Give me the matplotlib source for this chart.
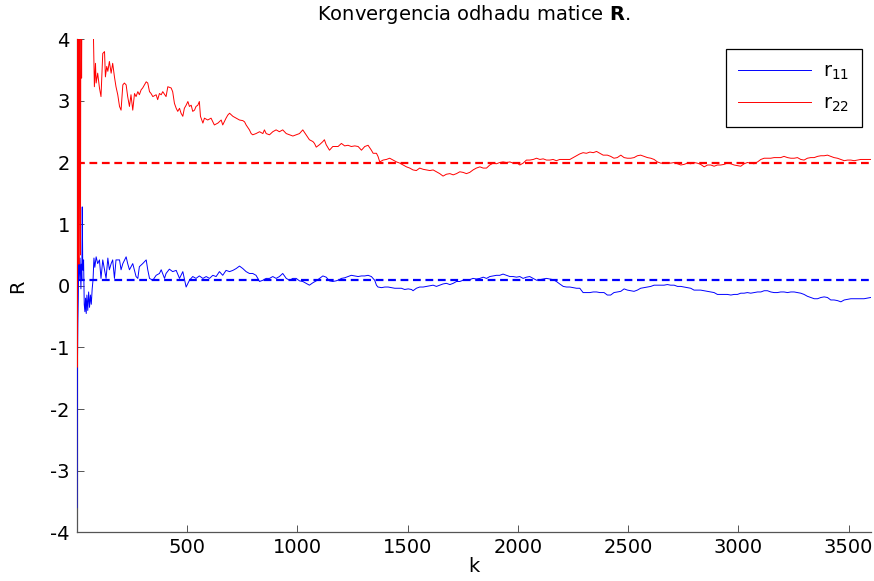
import numpy as np
import matplotlib
matplotlib.use("Agg")
import matplotlib.pyplot as plt

plt.rcParams["font.family"] = ["DejaVu Sans"]
plt.rcParams["mathtext.fontset"] = "dejavusans"
plt.rcParams["axes.unicode_minus"] = False

# true values (dashed reference lines)
r11_true = 0.1
r22_true = 2.0

# shared sample positions for the tail part of both estimates
k_tail = [2391, 2406, 2421, 2436, 2451, 2467, 2482, 2497, 2512, 2527,
          2542, 2557, 2572, 2588, 2603, 2618, 2633, 2648, 2663, 2678,
          2693, 2709, 2724, 2739, 2754, 2769, 2784, 2799, 2814, 2829,
          2845, 2860, 2875, 2890, 2905, 2920, 2935, 2950, 2966, 2981,
          2996, 3011, 3026, 3041, 3056, 3071, 3087, 3102, 3117, 3132,
          3147, 3162, 3177, 3192, 3207, 3223, 3238, 3253, 3268, 3283,
          3298, 3313, 3328, 3344, 3359, 3374, 3389, 3404, 3419, 3434,
          3449, 3465, 3480, 3495, 3510, 3525, 3540, 3555, 3570, 3585,
          3600]

# r11 estimate
k_r11 = [1, 2, 3, 4, 5, 7, 9, 11, 13, 15, 17, 19, 21, 23, 25, 27, 29, 31, 34, 37,
         40, 43, 46, 50, 54, 58, 62, 66, 70, 74, 78, 82,
         88, 95, 103, 110, 118, 133, 141, 148, 156, 163, 171, 178, 194, 201, 209, 224,
         231, 239, 254, 269, 277, 284, 299, 315, 322, 330, 345, 360, 375, 383, 398, 405,
         420, 435, 451, 466, 481, 496, 511, 526, 541, 556, 572, 587, 602, 617, 632, 647,
         662, 677, 693, 708, 723, 738, 753, 768, 783, 798, 813, 821, 829, 844, 859, 874,
         889, 904, 919, 934, 950, 965, 980, 995, 1010, 1025, 1040, 1055, 1071, 1086, 1101, 1116,
         1131, 1146, 1161, 1176, 1191,
         1200, 1215, 1230, 1245, 1261, 1276, 1291, 1306, 1321, 1336, 1351, 1359, 1366, 1382,
         1397, 1412, 1427, 1442, 1457, 1472, 1487, 1503, 1518, 1525, 1540, 1555, 1571, 1586,
         1601, 1616, 1631, 1646, 1661, 1676, 1692, 1707, 1722, 1737, 1752, 1767, 1782, 1797,
         1812, 1828, 1843, 1858, 1873, 1888, 1903, 1918, 1933, 1949, 1964, 1979, 1994, 2009,
         2024, 2039, 2054, 2070, 2085, 2100, 2115, 2130, 2145, 2160, 2175, 2190, 2206, 2221,
         2236, 2251, 2266, 2281, 2296, 2311, 2327, 2342, 2357, 2372, 2387] + k_tail
r11 = [-3.6, -2.45, -1.35, -0.95, -0.6, -0.2, 0.35, 0.1, 0.3, 0.45, 0.2, -0.05, 0.35, 0.1, 1.28, 0.4, 0.25, 0.42, -0.3, -0.42,
       -0.2, -0.45, -0.15, -0.4, -0.1, -0.35, -0.15, -0.3, -0.05, 0.1, 0.45, 0.3,
       0.47, 0.36, 0.42, 0.12, 0.42, 0.12, 0.45, 0.26, 0.36, 0.42, 0.12, 0.42, 0.42, 0.26, 0.36, 0.47,
       0.36, 0.26, 0.36, 0.15, 0.12, 0.31, 0.36, 0.42, 0.26, 0.12, 0.09, 0.17, 0.20, 0.26, 0.12, 0.20,
       0.27, 0.23, 0.25, 0.12, 0.23, -0.02, 0.09, 0.15, 0.12, 0.16, 0.12, 0.15, 0.12, 0.17, 0.15, 0.23,
       0.17, 0.25, 0.23, 0.25, 0.28, 0.32, 0.28, 0.23, 0.20, 0.20, 0.17, 0.12, 0.07, 0.09, 0.12, 0.12,
       0.15, 0.12, 0.15, 0.20, 0.12, 0.09, 0.12, 0.12, 0.08, 0.07, 0.04, 0.01, 0.05, 0.08, 0.12, 0.16,
       0.14, 0.08, 0.07, 0.08, 0.10,
       0.12, 0.13, 0.15, 0.17, 0.16, 0.15, 0.16, 0.16, 0.17, 0.15, 0.09, 0.01, -0.02, -0.03,
       -0.02, -0.02, -0.03, -0.04, -0.04, -0.04, -0.06, -0.05, -0.06, -0.08, -0.04, -0.02, -0.02, -0.01,
       0.0, 0.01, -0.01, 0.01, 0.03, 0.04, 0.02, 0.04, 0.07, 0.07, 0.09, 0.09, 0.10, 0.12,
       0.11, 0.12, 0.14, 0.12, 0.15, 0.16, 0.17, 0.17, 0.19, 0.17, 0.15, 0.15, 0.14, 0.15,
       0.12, 0.14, 0.15, 0.12, 0.09, 0.10, 0.11, 0.12, 0.11, 0.10, 0.07, 0.03, -0.01, -0.02,
       -0.02, -0.03, -0.04, -0.04, -0.11, -0.11, -0.11, -0.10, -0.10, -0.11, -0.11,
       -0.11, -0.15, -0.15, -0.11, -0.10, -0.09, -0.05, -0.07, -0.08, -0.09,
       -0.07, -0.04, -0.03, -0.02, -0.01, 0.01, 0.01, 0.01, 0.01, 0.02,
       0.01, 0.01, -0.01, -0.01, -0.02, -0.03, -0.04, -0.07, -0.07, -0.07,
       -0.08, -0.09, -0.10, -0.11, -0.14, -0.14, -0.14, -0.14, -0.15, -0.14,
       -0.14, -0.12, -0.12, -0.11, -0.12, -0.11, -0.10, -0.10, -0.08, -0.08,
       -0.10, -0.11, -0.11, -0.10, -0.10, -0.11, -0.10, -0.10, -0.11, -0.12,
       -0.14, -0.17, -0.19, -0.21, -0.21, -0.19, -0.18, -0.19, -0.23, -0.23,
       -0.24, -0.26, -0.23, -0.22, -0.21, -0.21, -0.21, -0.21, -0.21, -0.20,
       -0.19]

# r22 estimate
k_r22 = [1, 3, 5, 8, 10, 12, 15, 17, 19, 22, 25, 35, 45, 55, 65, 72,
         76, 80, 85, 88, 95, 103, 110, 118, 126, 130, 136, 141, 148, 156, 163, 171,
         178, 186, 194, 201, 209, 216, 224, 231, 239, 246, 254, 262, 269, 277, 284, 292,
         299, 307, 315, 322, 330, 337, 345, 360, 367, 375, 383, 390, 405, 413, 428, 435,
         443, 451, 458, 466, 473, 481, 488, 496, 504, 511, 519, 526, 534, 541, 549, 556,
         561, 572, 579, 594, 609, 617, 624, 640, 655, 662, 677, 685, 693, 708, 723, 738,
         753, 761, 768, 783, 791, 798, 813, 829, 844, 851, 859, 874, 889, 904, 919, 934,
         950, 965, 980, 995, 1010, 1025, 1040, 1055, 1071, 1078, 1086, 1101, 1116, 1123, 1131, 1146,
         1161, 1176,
         1185, 1200, 1215, 1230, 1245, 1261, 1276, 1291, 1306, 1321, 1336, 1344, 1359, 1366,
         1374, 1389, 1404, 1419, 1434, 1450, 1465, 1480, 1495, 1510, 1525, 1540, 1555, 1571,
         1586, 1601, 1616, 1631, 1646, 1661, 1676, 1692, 1707, 1722, 1737, 1752, 1767, 1782,
         1797, 1812, 1828, 1843, 1858, 1873, 1888, 1903, 1918, 1933, 1949, 1964, 1979, 1994,
         2009, 2024, 2039, 2054, 2070, 2085, 2100, 2115, 2130, 2145, 2160, 2175, 2190, 2206,
         2221, 2236, 2251, 2266, 2281, 2296, 2311, 2327, 2342, 2357, 2372, 2387] + k_tail
r22 = [4.8, -1.32, 6.0, 1.2, 0.35, 6.0, 1.15, 0.5, 6.0, 3.37, 6.0, 4.6, 4.9, 4.4, 4.7, 4.3,
       4.0, 3.23, 3.61, 3.29, 3.45, 3.21, 3.07, 3.77, 3.80, 3.39, 3.56, 3.48, 3.64, 3.45, 3.61, 3.39,
       3.23, 3.10, 2.91, 2.85, 3.26, 3.29, 3.26, 3.07, 2.91, 3.10, 2.85, 3.12, 3.07, 3.15, 3.10, 3.18,
       3.21, 3.26, 3.31, 3.29, 3.15, 3.12, 3.07, 3.10, 3.02, 3.12, 3.10, 3.15, 3.07, 3.23, 3.21, 3.15,
       2.96, 2.88, 2.83, 2.88, 2.80, 2.75, 2.88, 2.93, 2.99, 2.91, 2.93, 2.83, 2.85, 2.91, 2.93, 2.99,
       2.75, 2.64, 2.72, 2.69, 2.72, 2.66, 2.61, 2.64, 2.69, 2.61, 2.72, 2.77, 2.80, 2.75, 2.72, 2.69,
       2.68, 2.66, 2.61, 2.53, 2.47, 2.45, 2.47, 2.50, 2.47, 2.53, 2.47, 2.45, 2.50, 2.53, 2.50, 2.53,
       2.47, 2.45, 2.43, 2.45, 2.47, 2.53, 2.45, 2.37, 2.34, 2.31, 2.25, 2.29, 2.34, 2.37, 2.29, 2.20,
       2.26, 2.26,
       2.26, 2.31, 2.27, 2.28, 2.26, 2.27, 2.26, 2.20, 2.26, 2.28, 2.20, 2.15, 2.15, 2.10,
       2.01, 2.04, 2.05, 2.07, 2.04, 2.01, 1.99, 1.96, 1.93, 1.91, 1.88, 1.87, 1.91, 1.89,
       1.88, 1.87, 1.88, 1.85, 1.82, 1.78, 1.81, 1.82, 1.80, 1.82, 1.85, 1.84, 1.82, 1.84,
       1.88, 1.91, 1.93, 1.91, 1.91, 1.96, 1.99, 1.98, 2.00, 2.01, 2.00, 2.01, 1.99, 2.00,
       1.96, 1.99, 2.04, 2.04, 2.05, 2.07, 2.05, 2.06, 2.04, 2.04, 2.05, 2.03, 2.05, 2.05,
       2.05, 2.05, 2.08, 2.11, 2.14, 2.16, 2.15, 2.17, 2.16, 2.18, 2.15, 2.12,
       2.12, 2.12, 2.10, 2.07, 2.08, 2.12, 2.08, 2.07, 2.07, 2.08,
       2.11, 2.12, 2.10, 2.08, 2.07, 2.05, 2.01, 1.99, 1.99, 2.00,
       1.99, 2.00, 1.98, 1.96, 1.97, 1.99, 1.98, 2.00, 1.99, 1.97,
       1.93, 1.96, 1.96, 1.94, 1.96, 1.96, 1.97, 1.99, 1.98, 1.96,
       1.95, 1.94, 1.98, 2.00, 1.99, 1.98, 2.01, 2.05, 2.07, 2.07,
       2.07, 2.08, 2.08, 2.08, 2.10, 2.08, 2.07, 2.07, 2.08, 2.05,
       2.04, 2.07, 2.08, 2.08, 2.10, 2.11, 2.11, 2.12, 2.10, 2.08,
       2.07, 2.05, 2.03, 2.04, 2.04, 2.03, 2.04, 2.05, 2.05, 2.05,
       2.05]

k_max = 3600

fig = plt.figure(figsize=(8.74, 5.81), dpi=100)
ax = fig.add_axes([0.0878, 0.0838, 0.9084, 0.8486])

l1, = ax.plot(k_r11, r11, color="#0000ff", lw=0.7, label=r"r$_{11}$", zorder=3)
l2, = ax.plot(k_r22, r22, color="#ff0000", lw=0.7, label=r"r$_{22}$", zorder=3)
ax.plot([1, k_max], [r11_true, r11_true], color="#0000ff", lw=1.6, dashes=(3.5, 2.1))
ax.plot([1, k_max], [r22_true, r22_true], color="#ff0000", lw=1.6, dashes=(3.5, 2.1))

ax.set_xlim(0, k_max)
ax.set_ylim(-4, 4)
ax.set_xticks(range(500, 3501, 500))
ax.set_yticks(range(-4, 5))

for s in ("top", "right"):
    ax.spines[s].set_visible(False)
for s in ("left", "bottom"):
    ax.spines[s].set_color("#555555")
    ax.spines[s].set_linewidth(0.9)
ax.tick_params(direction="in", length=5, width=0.7, color="#555555", labelsize=14)
ax.tick_params(axis="x", pad=4)
ax.tick_params(axis="y", pad=5)

ax.set_title(r"Konvergencia odhadu matice $\mathbf{R}$.", fontsize=14, pad=14)
ax.set_xlabel("k", fontsize=14)
ax.set_ylabel("R", fontsize=14)
ax.xaxis.set_label_coords(0.5, -0.05)
ax.yaxis.set_label_coords(-0.062, 0.5)

leg = ax.legend(handles=[l1, l2], loc="upper right", bbox_to_anchor=(0.9887, 0.98),
                borderaxespad=0, fancybox=False, framealpha=1, edgecolor="black",
                fontsize=14, handlelength=3.75, handletextpad=0.6, labelspacing=0.6,
                borderpad=0.65)
leg.get_frame().set_linewidth(0.9)

fig.savefig("out.png", dpi=100)
